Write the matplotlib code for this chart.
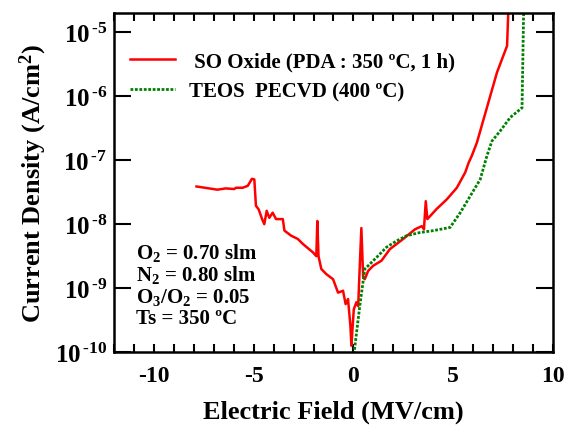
## I-V leakage of SO oxide vs TEOS PECVD oxide
import numpy as np
import matplotlib.pyplot as plt
from matplotlib.ticker import MultipleLocator, FixedLocator

plt.rcParams['font.family'] = 'Liberation Serif'
plt.rcParams['font.weight'] = 'bold'
plt.rcParams['axes.unicode_minus'] = False
plt.rcParams['mathtext.fontset'] = 'custom'
plt.rcParams['mathtext.rm'] = 'Liberation Serif:bold'
plt.rcParams['mathtext.bf'] = 'Liberation Serif:bold'
plt.rcParams['mathtext.it'] = 'Liberation Serif:bold'

# SO oxide (PDA 350 C, 1 h): field in MV/cm, log10 of current density in A/cm2
so_field = [-7.87, -7.24, -6.82, -6.40, -5.98, -5.89, -5.56, -5.30, -5.09, -4.97,
            -4.89, -4.75, -4.58, -4.47, -4.35, -4.22, -4.05, -3.88, -3.54, -3.46,
            -3.12, -2.79, -2.53, -2.03, -1.86, -1.81, -1.75, -1.61, -1.36, -1.02,
            -0.77, -0.52, -0.39, -0.27, -0.15, -0.10, 0.02, 0.15, 0.24, 0.32,
            0.40, 0.49, 0.57, 0.74, 0.99, 1.41, 1.83, 2.50, 3.09, 3.43,
            3.54, 3.63, 3.71, 4.18, 4.69, 5.19, 5.61, 5.78, 5.94, 6.20,
            6.53, 6.87, 7.20, 7.71, 7.79]
so_logj = [-7.41, -7.44, -7.46, -7.44, -7.45, -7.43, -7.43, -7.40, -7.29, -7.30,
           -7.71, -7.77, -7.92, -8.00, -7.79, -7.90, -7.82, -7.92, -7.92, -8.10,
           -8.18, -8.23, -8.31, -8.44, -8.50, -7.95, -8.50, -8.70, -8.78, -8.86,
           -9.07, -9.04, -9.25, -9.17, -9.59, -9.90, -9.33, -9.22, -9.28, -8.65,
           -8.06, -8.83, -8.86, -8.73, -8.65, -8.57, -8.39, -8.23, -8.08, -8.03,
           -8.08, -7.64, -7.92, -7.76, -7.61, -7.43, -7.19, -7.04, -6.93, -6.72,
           -6.36, -5.99, -5.63, -5.21, -4.50]

# TEOS PECVD (400 C)
teos_field = [0.00, 0.32, 0.57, 0.74, 1.16, 1.66, 2.17, 2.67, 3.34, 4.02,
              4.85, 5.36, 5.86, 6.36, 6.70, 6.95, 7.37, 7.87, 8.46, 8.55]
teos_logj = [-10.10, -9.28, -8.70, -8.65, -8.52, -8.36, -8.26, -8.18, -8.13, -8.10,
             -8.05, -7.82, -7.56, -7.30, -6.93, -6.70, -6.54, -6.33, -6.18, -4.50]

labels = [' SO Oxide (PDA : 350 ºC, 1 h)', 'TEOS  PECVD (400 ºC)']
conditions = ['O$_2$ = 0.70 slm', 'N$_2$ = 0.80 slm', 'O$_3$/O$_2$ = 0.05', 'Ts = 350 ºC']

fig = plt.figure(figsize=(5.71, 4.27), dpi=100)
ax = fig.add_axes([0.20, 0.173, 0.768, 0.794])

ax.semilogy(so_field, 10**np.array(so_logj), '-', color='#ff0000', linewidth=1.8,
            label=labels[0])
ax.semilogy(teos_field, 10**np.array(teos_logj), color='#008000', linewidth=2.0,
            dashes=(1, 0.6), label=labels[1])

ax.set_xlim(-12, 10)
ax.set_ylim(1e-10, 2e-5)

ax.xaxis.set_major_locator(MultipleLocator(5))
ax.xaxis.set_minor_locator(MultipleLocator(1))
decades = [1e-10, 1e-9, 1e-8, 1e-7, 1e-6, 1e-5]
ax.yaxis.set_major_locator(FixedLocator(decades))
ax.yaxis.set_minor_locator(FixedLocator([]))
ax.set_yticklabels(['10$^{\\,\\text{-}%d}$' % e for e in range(10, 4, -1)])

ax.tick_params(which='both', direction='in', top=True, right=True, width=1.5)
ax.tick_params(axis='x', which='both', length=6, pad=9, labelsize=17)
ax.tick_params(axis='y', which='major', length=12, pad=5, labelsize=18)
for s in ax.spines.values():
    s.set_linewidth(1.8)

ax.set_xlabel('Electric Field (MV/cm)', fontsize=19, fontweight='bold', labelpad=10)
ax.set_ylabel('Current Density (A/cm$^2$)', fontsize=19, fontweight='bold', labelpad=4)

ax.legend(loc='upper left', frameon=False, fontsize=15, handlelength=2.15,
          handletextpad=0.7, borderpad=0, borderaxespad=0,
          bbox_to_anchor=(0.036, 0.888), labelspacing=0.5)

for i, t in enumerate(conditions):
    ax.text(0.05, 0.295 - i * 0.065, t, transform=ax.transAxes, fontsize=15,
            fontweight='bold', va='center')

fig.savefig('out.png', dpi=100)
